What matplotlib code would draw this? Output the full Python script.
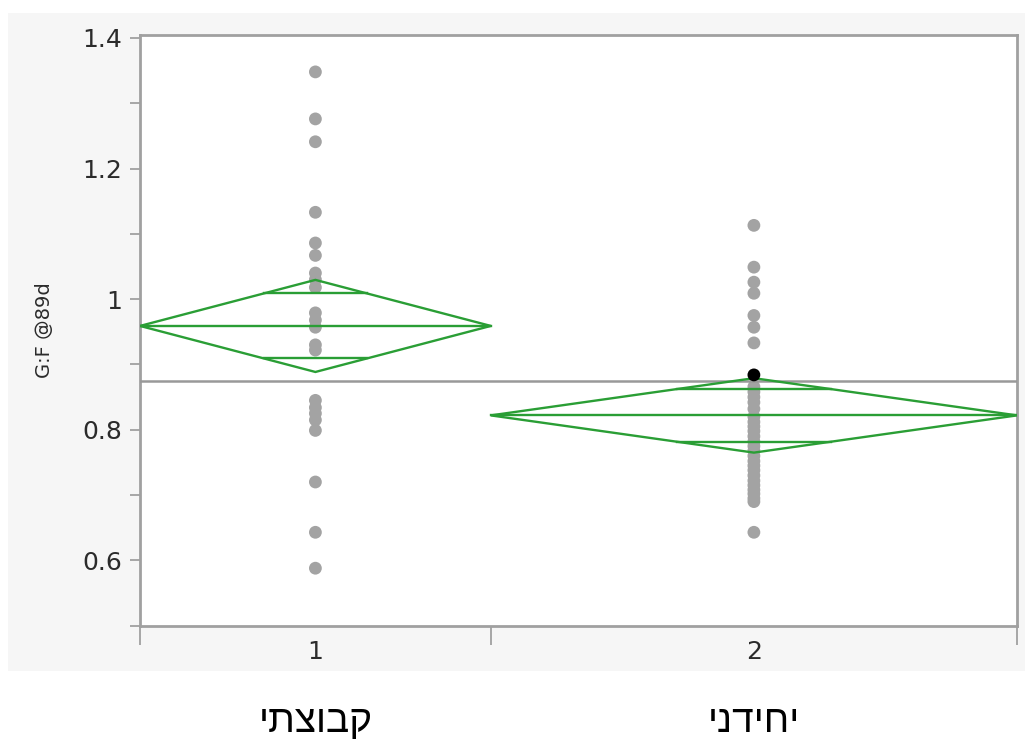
import numpy as np
import matplotlib.pyplot as plt
from matplotlib.patches import Polygon, Rectangle
from matplotlib.ticker import FixedLocator, FixedFormatter

# G:F @89d values
group1 = [1.348, 1.276, 1.241, 1.133, 1.086, 1.067, 1.040, 1.030, 1.018, 0.979, 0.968,
          0.957, 0.930, 0.922, 0.845, 0.834, 0.825, 0.815, 0.799, 0.720, 0.643, 0.588]
group2 = [1.113, 1.049, 1.026, 1.009, 0.975, 0.957, 0.933, 0.866, 0.858, 0.850, 0.842,
          0.832, 0.820, 0.812, 0.805, 0.798, 0.790, 0.782, 0.775, 0.768, 0.760, 0.752,
          0.745, 0.738, 0.730, 0.722, 0.715, 0.708, 0.702, 0.695, 0.690, 0.643]
selected = 0.884  # highlighted point in group 2

group_labels = ['1', '2']
hebrew_labels = ['קבוצתי', 'יחידני']
means = [0.959, 0.822]
ci_half = [0.0705, 0.057]
grand_mean = 0.874

green = '#2a9e35'
grey = '#a3a3a3'

fig = plt.figure(figsize=(10.25, 7.4), dpi=100)
fig.patches.append(Rectangle((8 / 1025, 1 - 671 / 740), 1, (671 - 13) / 740,
                             transform=fig.transFigure, facecolor='#f6f6f6',
                             edgecolor='none', zorder=-10))
ax = fig.add_axes([140 / 1025, 1 - 626 / 740, (1017 - 140) / 1025, (626 - 35) / 740])
ax.set_zorder(1)
ax.set_facecolor('white')

groups = [group1, group2 + [selected]]
ns = [len(g) for g in groups]
edges = np.concatenate([[0], np.cumsum(ns)])
centers = (edges[:-1] + edges[1:]) / 2

ax.scatter(np.full(len(group1), centers[0]), group1, s=85, color=grey,
           edgecolor='none', zorder=2)
ax.scatter(np.full(len(group2), centers[1]), group2, s=85, color=grey,
           edgecolor='none', zorder=2)
ax.scatter([centers[1]], [selected], s=85, color='black', edgecolor='none', zorder=6)

ax.axhline(grand_mean, color='#999999', lw=1.8, zorder=3)

for i in range(2):
    x0, x1, xc = edges[i], edges[i + 1], centers[i]
    m, c = means[i], ci_half[i]
    ax.add_patch(Polygon([(x0, m), (xc, m + c), (x1, m), (xc, m - c)], closed=True,
                         fill=False, edgecolor=green, lw=1.7, zorder=4))
    ax.plot([x0, x1], [m, m], color=green, lw=1.7, zorder=4)
    h = c / np.sqrt(2)
    hw = (x1 - x0) / 2 * (1 - h / c)
    for yy in (m + h, m - h):
        ax.plot([xc - hw, xc + hw], [yy, yy], color=green, lw=1.7, zorder=4)

ax.set_xlim(edges[0], edges[-1])
ax.set_ylim(0.4995, 1.4045)

ax.yaxis.set_major_locator(FixedLocator([0.6, 0.8, 1.0, 1.2, 1.4]))
ax.yaxis.set_major_formatter(FixedFormatter(['0.6', '0.8', '1', '1.2', '1.4']))
ax.yaxis.set_minor_locator(FixedLocator([0.5, 0.7, 0.9, 1.1, 1.3]))
ax.tick_params(axis='y', which='both', length=7, width=1.2, color='#999999',
               labelsize=18, labelcolor='#2b2b2b', pad=6)

ax.xaxis.set_major_locator(FixedLocator(list(edges)))
ax.xaxis.set_major_formatter(FixedFormatter(['', '', '']))
ax.xaxis.set_minor_locator(FixedLocator(list(centers)))
ax.xaxis.set_minor_formatter(FixedFormatter(group_labels))
ax.tick_params(axis='x', which='major', length=14, width=1.2, color='#999999')
ax.tick_params(axis='x', which='minor', length=0, labelsize=18,
               labelcolor='#2b2b2b', pad=10)

for s in ax.spines.values():
    s.set_color('#a0a0a0')
    s.set_linewidth(2)

ax.set_ylabel('G:F @89d', fontsize=14, color='#2b2b2b', labelpad=20)

for i, lab in enumerate(hebrew_labels):
    xf = (140 + (1017 - 140) * centers[i] / edges[-1]) / 1025
    fig.text(xf, 1 - 722 / 740, lab[::-1], ha='center', va='center', fontsize=28,
             family=['Liberation Sans', 'DejaVu Sans'], color='black')

fig.savefig('out.png', dpi=100, facecolor='white')
